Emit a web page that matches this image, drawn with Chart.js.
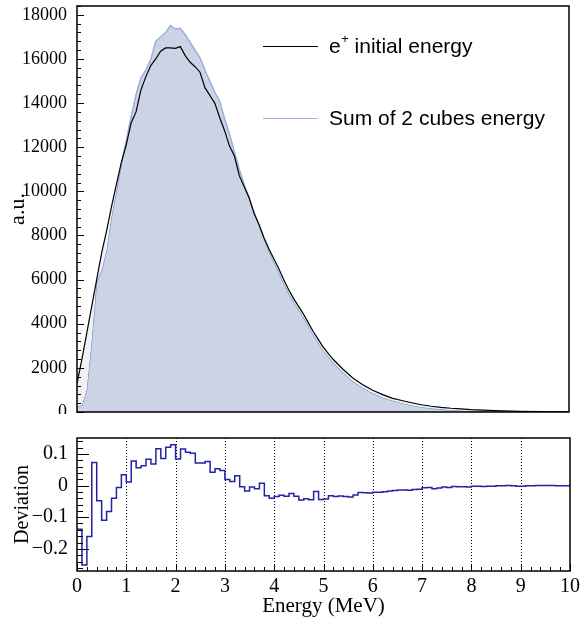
<!DOCTYPE html>
<html lang="en">
<head>
<meta charset="UTF-8" />
<title>e+ initial energy vs sum of 2 cubes energy</title>
<script src="https://cdn.jsdelivr.net/npm/chart.js"></script>
<style>
  html, body { margin: 0; padding: 0; background: #fff; }
  #wrap { position: relative; width: 580px; height: 619px; }
  #topBox { position: absolute; left: 0; top: 0; width: 580px; height: 414px; }
  #botBox { position: absolute; left: 0; top: 414px; width: 580px; height: 205px; }
</style>
</head>
<body>
<div id="wrap">
  <div id="topBox"><canvas id="topChart"></canvas></div>
  <div id="botBox"><canvas id="botChart"></canvas></div>
</div>

<script>
// energy points (MeV) for the two spectra
const energies = [
  0.0, 0.1, 0.2, 0.3, 0.4, 0.5, 0.6, 0.7, 0.8, 0.9,
  1.0, 1.1, 1.2, 1.3, 1.4, 1.5, 1.6, 1.7, 1.8, 1.9,
  2.0, 2.1, 2.2, 2.3, 2.4, 2.5, 2.6, 2.7, 2.8, 2.9,
  3.0, 3.1, 3.2, 3.3, 3.4, 3.5, 3.6, 3.7, 3.8, 3.9,
  4.0, 4.1, 4.2, 4.3, 4.4, 4.5, 4.6, 4.7, 4.8, 4.9,
  5.0, 5.2, 5.4, 5.6, 5.8, 6.0, 6.2, 6.4, 6.6, 6.8,
  7.0, 7.2, 7.4, 7.6, 7.8, 8.0, 8.5, 9.0, 9.5, 10.0
];
const positronEnergy = [
  1300, 2400, 3600, 4800, 6000, 7200, 8200, 9300, 10300, 11300,
  12100, 13100, 13600, 14600, 15200, 15700, 16000, 16350, 16500, 16500,
  16480, 16560, 16150, 15850, 15650, 15400, 14700, 14350, 14000, 13350,
  12750, 12050, 11600, 10700, 10200, 9700, 9000, 8500, 7900, 7400,
  6950, 6500, 6000, 5550, 5150, 4800, 4450, 4050, 3650, 3300,
  2950, 2400, 1950, 1550, 1250, 1000, 800, 630, 520, 420,
  330, 260, 210, 170, 140, 110, 60, 30, 15, 5
];
const cubesEnergy = [
  250, 300, 1000, 3200, 5900, 6400, 7300, 8800, 10000, 11200,
  12300, 13400, 14400, 15150, 15500, 16000, 16800, 17000, 17200, 17520,
  17350, 17400, 17100, 16750, 16400, 16050, 15500, 15000, 14500, 14100,
  13300, 12600, 11800, 11000, 10300, 9700, 9050, 8450, 7850, 7300,
  6800, 6350, 5850, 5400, 5000, 4650, 4300, 3900, 3500, 3150,
  2800, 2250, 1800, 1400, 1100, 860, 660, 520, 400, 300,
  220, 160, 120, 80, 60, 40, 15, 5, 0, 0
];
const yTicksTop = [0, 2000, 4000, 6000, 8000, 10000, 12000, 14000, 16000, 18000];

// deviation histogram, 0.1 MeV bins from 0 to 10 MeV
const devBinWidth = 0.1;
const deviation = [
  -0.138, -0.251, -0.161, 0.073, -0.048, -0.110, -0.082, -0.040, -0.006, 0.034,
  0.011, 0.077, 0.056, 0.062, 0.083, 0.068, 0.116, 0.085, 0.121, 0.129,
  0.084, 0.115, 0.105, 0.102, 0.071, 0.071, 0.076, 0.042, 0.053, 0.047,
  0.019, 0.013, 0.031, -0.004, -0.017, -0.005, -0.010, 0.007, -0.032, -0.040,
  -0.035, -0.031, -0.034, -0.025, -0.034, -0.046, -0.042, -0.045, -0.019, -0.044,
  -0.043, -0.032, -0.035, -0.033, -0.035, -0.036, -0.030, -0.022, -0.023, -0.024,
  -0.021, -0.021, -0.020, -0.017, -0.016, -0.014, -0.014, -0.015, -0.013, -0.012,
  -0.007, -0.006, -0.010, -0.008, -0.005, -0.006, -0.003, -0.004, -0.004, -0.005,
  -0.002, -0.002, -0.003, -0.002, -0.002, -0.001, -0.001, 0.000, -0.001, -0.002,
  -0.002, -0.001, -0.001, 0.000, 0.000, 0.000, 0.000, -0.001, -0.001, -0.001
];
const xTicks = [0, 1, 2, 3, 4, 5, 6, 7, 8, 9, 10];
const yTicksDev = [-0.2, -0.1, 0, 0.1];

const serif = '"Liberation Serif", "Times New Roman", serif';
const sans = '"Liberation Sans", Arial, sans-serif';

function drawFrame(ctx, a) {
  ctx.strokeStyle = '#000';
  ctx.lineWidth = 1.5;
  ctx.beginPath();
  ctx.moveTo(a.left, a.top);
  ctx.lineTo(a.right, a.top);
  ctx.lineTo(a.right, a.bottom);
  ctx.lineTo(a.left, a.bottom);
  ctx.closePath();
  ctx.stroke();
}

// frame, inward ticks and legend of the upper pad
const topDecor = {
  id: 'topDecor',
  afterDraw(chart) {
    const ctx = chart.ctx;
    const a = chart.chartArea;
    const y = chart.scales.y;
    ctx.save();
    drawFrame(ctx, a);
    ctx.lineWidth = 1;
    ctx.beginPath();
    for (let v = 0; v <= 18400; v += 400) {
      const py = Math.round(y.getPixelForValue(v)) + 0.5;
      const len = v % 2000 === 0 ? 7 : 4;
      ctx.moveTo(a.left, py);
      ctx.lineTo(a.left + len, py);
    }
    ctx.stroke();

    // legend
    ctx.lineWidth = 1.2;
    ctx.strokeStyle = '#000';
    ctx.beginPath(); ctx.moveTo(263, 46.5); ctx.lineTo(318, 46.5); ctx.stroke();
    ctx.strokeStyle = '#9fb5df';
    ctx.beginPath(); ctx.moveTo(263, 118.5); ctx.lineTo(318, 118.5); ctx.stroke();
    ctx.fillStyle = '#000';
    ctx.textBaseline = 'middle';
    ctx.textAlign = 'left';
    ctx.font = '21px ' + sans;
    ctx.fillText('e', 329, 47);
    let xx = 329 + ctx.measureText('e').width;
    ctx.font = '13px ' + sans;
    ctx.fillText('+', xx + 0.5, 39);
    xx += ctx.measureText('+').width + 0.5;
    ctx.font = '21px ' + sans;
    ctx.fillText(' initial energy', xx, 47);
    ctx.fillText('Sum of 2 cubes energy', 329, 119);
    ctx.restore();
  }
};

// dotted grid, frame and inward ticks of the lower pad
const botDecor = {
  id: 'botDecor',
  beforeDatasetsDraw(chart) {
    const {ctx, chartArea: a, scales: {x}} = chart;
    ctx.save();
    ctx.strokeStyle = '#000';
    ctx.lineWidth = 1;
    ctx.setLineDash([1, 2]);
    ctx.beginPath();
    xTicks.slice(1, -1).forEach(v => {
      const px = Math.round(x.getPixelForValue(v)) + 0.5;
      ctx.moveTo(px, a.top);
      ctx.lineTo(px, a.bottom);
    });
    ctx.stroke();
    ctx.restore();
  },
  afterDraw(chart) {
    const {ctx, chartArea: a, scales: {x, y}} = chart;
    ctx.save();
    drawFrame(ctx, a);
    ctx.lineWidth = 1;
    ctx.beginPath();
    for (let k = -13; k <= 7; k++) {
      const py = Math.round(y.getPixelForValue(k * 0.02)) + 0.5;
      const len = k % 5 === 0 ? 12 : 6;
      ctx.moveTo(a.left, py);
      ctx.lineTo(a.left + len, py);
    }
    for (let k = 0; k <= 50; k++) {
      const px = Math.round(x.getPixelForValue(k * 0.2)) + 0.5;
      const len = k % 5 === 0 ? 7 : 4;
      ctx.moveTo(px, a.bottom);
      ctx.lineTo(px, a.bottom - len);
    }
    ctx.stroke();
    ctx.restore();
  }
};

new Chart(document.getElementById('topChart'), {
  type: 'line',
  data: {
    datasets: [
      {
        label: 'Sum of 2 cubes energy',
        data: energies.map((e, i) => ({x: e, y: cubesEnergy[i]})),
        borderColor: '#7f9bd2',
        borderWidth: 1.2,
        backgroundColor: '#ccd3e4',
        fill: 'origin',
        pointRadius: 0,
        tension: 0,
        order: 1
      },
      {
        label: 'e+ initial energy',
        data: energies.map((e, i) => ({x: e, y: positronEnergy[i]})),
        borderColor: '#000',
        borderWidth: 1.2,
        fill: {target: 0, above: '#f1f1f3', below: 'rgba(0,0,0,0)'},
        pointRadius: 0,
        tension: 0,
        order: 0
      }
    ]
  },
  options: {
    animation: false,
    responsive: true,
    maintainAspectRatio: false,
    layout: {padding: {top: 6, right: 11, bottom: 2, left: 0}},
    plugins: {legend: {display: false}, tooltip: {enabled: false}},
    scales: {
      x: {type: 'linear', min: 0, max: 10, display: false},
      y: {
        min: 0, max: 18400,
        afterBuildTicks: s => { s.ticks = yTicksTop.map(v => ({value: v})); },
        afterFit: s => { s.width = 77; s.paddingTop = 0; s.paddingBottom = 0; },
        grid: {display: false, drawTicks: false},
        border: {display: false},
        ticks: {padding: 10, color: '#000', font: {family: serif, size: 18}, callback: v => String(v)},
        title: {display: true, text: 'a.u.', color: '#000', font: {family: serif, size: 22}, padding: {top: 5, bottom: 0}}
      }
    }
  },
  plugins: [topDecor]
});

const histPoints = deviation.map((d, i) => ({x: i * devBinWidth, y: d}));
histPoints.push({x: deviation.length * devBinWidth, y: deviation[deviation.length - 1]});

new Chart(document.getElementById('botChart'), {
  type: 'line',
  data: {
    datasets: [{
      label: 'Deviation',
      data: histPoints,
      stepped: true,
      borderColor: '#2323a5',
      borderWidth: 1.5,
      pointRadius: 0,
      fill: false
    }]
  },
  options: {
    animation: false,
    responsive: true,
    maintainAspectRatio: false,
    layout: {padding: {top: 24, right: 10, bottom: 0, left: 0}},
    plugins: {legend: {display: false}, tooltip: {enabled: false}},
    scales: {
      x: {
        type: 'linear', min: 0, max: 10,
        afterBuildTicks: s => { s.ticks = xTicks.map(v => ({value: v})); },
        afterFit: s => { s.height = 48; s.paddingLeft = 0; s.paddingRight = 0; },
        grid: {display: false, drawTicks: false},
        border: {display: false},
        ticks: {padding: 4, color: '#000', maxRotation: 0, autoSkip: false, font: {family: serif, size: 20}},
        title: {display: true, text: 'Energy (MeV)', color: '#000', font: {family: serif, size: 21}, padding: {top: 0, bottom: 0}}
      },
      y: {
        min: -0.27, max: 0.15,
        afterBuildTicks: s => { s.ticks = yTicksDev.map(v => ({value: v})); },
        afterFit: s => { s.width = 77; s.paddingTop = 0; s.paddingBottom = 0; },
        grid: {display: false, drawTicks: false},
        border: {display: false},
        ticks: {
          padding: 9, color: '#000', font: {family: serif, size: 20},
          callback: v => v === 0 ? '0' : (v < 0 ? '\u2212' : '') + Math.abs(v).toFixed(1)
        },
        title: {display: true, text: 'Deviation', color: '#000', font: {family: serif, size: 20}, padding: {top: 11, bottom: 0}}
      }
    }
  },
  plugins: [botDecor]
});
</script>
</body>
</html>
